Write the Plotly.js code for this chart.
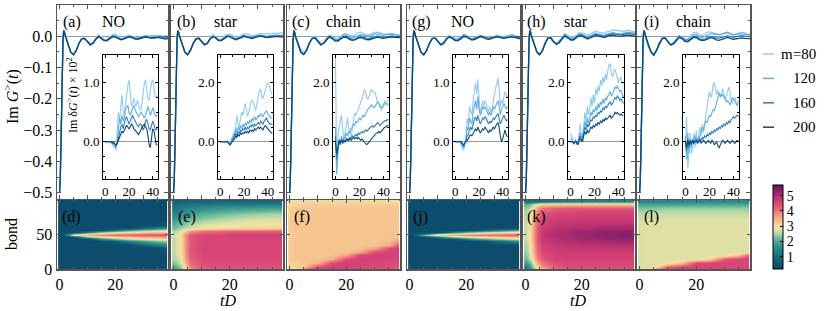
<!DOCTYPE html>
<html><head><meta charset="utf-8">
<script src="https://cdn.plot.ly/plotly-3.0.1.min.js"></script>
<style>html,body{margin:0;padding:0;background:#fff}#chart{width:830px;height:311px}</style>
</head><body><div id="chart"></div>
<script>
// ---------------- DATA ----------------
const tFine = [0,0.25,0.5,0.75,1,1.25,1.5,1.75];
const riseG = [-0.5,-0.46,-0.36,-0.22,-0.09,-0.01,0.018,0.014];
const tGrid = [0,1,2,3,4,5,6,7,8,9,10,11,12,13,14,15,16,17,18,19,20,21,22,23,24,25,26,27,28,29,30,31,32,33,34,35,36,37,38,39,40,41,42,43,44];
const baseG = [-0.5,-0.09,0.004,-0.025,-0.05,-0.059,-0.045,-0.022,-0.007,-0.006,-0.018,-0.028,-0.024,-0.011,-0.003,-0.008,-0.016,-0.017,-0.01,-0.004,-0.004,-0.01,-0.014,-0.012,-0.007,-0.004,-0.006,-0.01,-0.011,-0.008,-0.005,-0.004,-0.007,-0.009,-0.008,-0.006,-0.005,-0.006,-0.008,-0.008,-0.006,-0.005,-0.006,-0.007,-0.007];

const mLabels = ['m=80','120','160','200'];

// Im dG(t) x 10^2, inset (a) NO
const dNO_80  = [0,0,0,0,0,-0.02,-0.03,-0.1,-0.05,-0.15,0.1,0.5,0.35,0.55,0.8,0.55,0.42,0.6,0.8,0.95,1.05,0.85,0.6,0.65,0.74,0.65,0.6,0.7,0.65,0.55,0.54,0.65,0.85,1.0,1.05,0.9,0.72,0.7,0.85,1.0,1.05,0.9,0.78,0.75,0.78];
const dNO_120 = [0,0,0,0,0,-0.02,-0.05,0,-0.05,-0.1,0,0.2,0.4,0.3,0.45,0.35,0.4,0.55,0.6,0.62,0.5,0.45,0.5,0.58,0.62,0.55,0.5,0.45,0.42,0.45,0.5,0.48,0.42,0.4,0.45,0.55,0.6,0.52,0.45,0.5,0.58,0.52,0.45,0.43,0.45];
const dNO_160 = [0,0,0,0,0,0,-0.03,0,-0.05,-0.08,-0.02,0.05,0.15,0.25,0.3,0.22,0.3,0.4,0.42,0.35,0.3,0.35,0.42,0.45,0.4,0.35,0.33,0.28,0.25,0.3,0.3,0.25,0.2,0.25,0.35,0.38,0.3,0.22,0.2,0.28,0.35,0.3,0.22,0.2,0.25];
const dNO_200 = [0,0,0,0,0,0,0,-0.02,-0.03,-0.05,-0.03,0.02,0.08,0.12,0.18,0.15,0.2,0.25,0.28,0.25,0.22,0.25,0.3,0.28,0.22,0.2,0.18,0.15,0.12,0.15,0.2,0.25,0.28,0.3,0.25,0.22,0.1,-0.05,-0.1,0.05,0.22,0.2,0.05,-0.05,-0.05];
// inset (b) star
const dST_80  = [0,0,0,0,0,0,0.05,-0.05,0,-0.1,0.1,0.3,0.2,0.5,0.9,0.6,0.5,0.8,1.0,0.9,1.1,1.3,1.1,0.85,1.0,1.2,1.35,1.42,1.3,1.15,1.07,1.3,1.5,1.75,1.77,1.5,1.48,1.6,1.8,1.9,2.0,1.95,1.8,1.65,1.6];
const dST_120 = [0,0,0,0,0,0,0,-0.05,-0.1,0,0.15,0.1,0.3,0.45,0.3,0.5,0.4,0.55,0.45,0.6,0.5,0.65,0.55,0.7,0.6,0.75,0.65,0.8,0.7,0.85,0.75,0.8,0.9,0.85,0.95,0.9,0.85,0.95,1.0,1.05,0.95,0.9,0.85,0.8,0.8];
const dST_160 = [0,0,0,0,0,0,0,-0.05,-0.1,-0.05,0.05,0.1,0.2,0.3,0.2,0.35,0.3,0.4,0.35,0.45,0.4,0.5,0.4,0.5,0.45,0.55,0.5,0.6,0.5,0.6,0.55,0.6,0.65,0.6,0.7,0.65,0.6,0.7,0.75,0.8,0.7,0.65,0.6,0.6,0.6];
const dST_200 = [0,0,0,0,0,0,0,-0.05,-0.1,-0.05,0,0.05,0.1,0.2,0.15,0.25,0.2,0.3,0.25,0.3,0.28,0.35,0.3,0.35,0.3,0.4,0.35,0.4,0.35,0.45,0.4,0.45,0.5,0.45,0.5,0.45,0.4,0.5,0.55,0.5,0.45,0.4,0.35,0.3,0.3];
// inset (c) chain
const dCH_80  = [3.2,-1.0,0.2,0.5,0.7,0.9,0.4,0.05,0.3,0.6,0.8,0.5,0.25,0.17,0.5,0.8,0.97,0.9,1.0,1.08,1.2,1.35,1.43,1.6,1.77,1.7,1.5,1.43,1.55,1.7,1.77,1.72,1.68,1.66,1.5,1.35,1.3,1.15,1.08,1.12,1.2,1.3,1.38,1.42,1.43];
const dCH_120 = [0.5,-1.1,-0.5,0.1,-0.1,0.2,0,0.15,0.1,0.3,0.2,0.35,0.3,0.45,0.5,0.6,0.55,0.7,0.65,0.75,0.8,0.75,0.85,0.9,0.85,0.95,1.0,1.1,1.15,1.2,1.25,1.2,1.15,1.2,1.3,1.35,1.3,1.2,1.15,1.2,1.3,1.35,1.3,1.25,1.3];
const dCH_160 = [0.2,-0.6,-0.3,0,-0.1,0.1,-0.05,0.05,0,0.1,0.05,0.1,0.15,0.1,0.2,0.15,0.2,0.25,0.2,0.3,0.25,0.3,0.35,0.3,0.35,0.4,0.35,0.4,0.45,0.5,0.5,0.55,0.5,0.55,0.6,0.65,0.6,0.55,0.6,0.65,0.7,0.72,0.7,0.75,0.75];
const dCH_200 = [0,-0.4,-0.2,0.05,-0.05,0.05,-0.05,0.05,0,0.05,0.1,0.05,0.1,0.05,0.1,0.15,0.1,0.15,0.1,0.15,0.1,0.05,0.1,0.05,0,-0.05,-0.1,-0.05,0,0.05,0.1,0.15,0.2,0.25,0.3,0.3,0.35,0.3,0.35,0.4,0.45,0.5,0.5,0.55,0.55];
// inset (g) NO
const dNOg_80  = [0,0,0,0.02,0,-0.05,-0.1,-0.15,-0.05,0.1,0.4,0.3,0.6,0.5,0.45,0.7,0.85,1.0,0.8,1.06,0.75,0.5,0.55,0.7,0.6,0.7,0.65,0.55,0.5,0.6,0.5,0.55,0.7,0.8,0.9,1.0,1.08,0.9,0.6,0.7,0.65,0.75,0.85,0.8,0.75];
const dNOg_120 = [0,0,0,0,0,-0.03,-0.08,-0.1,0,0.05,0.25,0.2,0.4,0.35,0.3,0.5,0.6,0.7,0.55,0.77,0.55,0.45,0.5,0.6,0.55,0.6,0.55,0.5,0.45,0.5,0.45,0.5,0.6,0.55,0.6,0.65,0.7,0.6,0.45,0.55,0.6,0.65,0.6,0.55,0.6];
const dNOg_160 = [0,0,0,0,0,0,-0.05,-0.08,-0.02,0,0.1,0.12,0.2,0.25,0.2,0.3,0.38,0.42,0.35,0.45,0.38,0.3,0.35,0.4,0.38,0.42,0.4,0.35,0.3,0.35,0.32,0.35,0.4,0.38,0.42,0.45,0.48,0.4,0.3,0.35,0.4,0.45,0.4,0.35,0.38];
const dNOg_200 = [0,0,0,0,0,0,-0.03,-0.05,-0.02,0,0.03,0.05,0.1,0.12,0.1,0.15,0.2,0.22,0.18,0.25,0.2,0.15,0.18,0.22,0.2,0.25,0.22,0.18,0.15,0.2,0.18,0.2,0.25,0.22,0.28,0.3,0.32,0.25,0.1,0,0.05,0.15,0.2,0.12,0.08];
// inset (h) star
const dSTh_80  = [0.3,0.2,0,-0.1,0.1,0,-0.1,0.2,0.6,0.3,0.1,0.5,1.0,0.7,1.2,0.9,1.1,1.5,1.2,1.6,1.3,1.8,1.6,1.9,1.7,2.1,1.9,2.2,2.0,2.3,2.1,2.4,2.6,2.65,2.3,2.2,2.4,2.45,2.3,2.1,2.0,2.1,2.2,2.0,1.95];
const dSTh_120 = [0.1,0.1,0,-0.05,0.05,0,-0.1,0.1,0.3,0.2,0.1,0.4,0.7,0.5,0.8,0.6,0.8,1.0,0.9,1.1,1.0,1.2,1.05,1.3,1.15,1.35,1.25,1.45,1.3,1.5,1.4,1.55,1.6,1.7,1.55,1.6,1.75,1.85,1.8,1.9,1.8,1.7,1.75,1.6,1.5];
const dSTh_160 = [0,0,0,-0.05,0,0,-0.1,0.05,0.2,0.1,0.05,0.3,0.5,0.4,0.6,0.5,0.6,0.75,0.7,0.85,0.8,0.9,0.85,1.0,0.95,1.05,1.0,1.15,1.1,1.2,1.15,1.25,1.3,1.35,1.25,1.3,1.4,1.5,1.45,1.55,1.5,1.4,1.45,1.35,1.3];
const dSTh_200 = [0,0,0,-0.05,0,0,-0.1,0,0.1,0.05,0,0.2,0.35,0.25,0.4,0.3,0.4,0.5,0.45,0.55,0.5,0.6,0.55,0.65,0.6,0.7,0.65,0.75,0.7,0.8,0.75,0.8,0.85,0.9,0.8,0.85,0.9,1.0,0.95,1.0,0.95,0.9,0.95,0.9,0.9];
// inset (i) chain
const dCHi_80  = [-0.3,0.85,-0.9,-0.3,0.3,-0.4,-0.2,0.3,-0.2,0.4,-0.1,0.2,0.5,0.2,0.6,0.3,0.7,0.9,1.2,1.5,1.7,1.5,1.6,1.95,2.0,1.75,1.6,1.75,1.6,1.5,1.65,1.8,1.6,1.45,1.55,1.75,1.85,1.7,1.4,1.3,1.45,1.5,1.35,1.2,1.4];
const dCHi_120 = [0.2,-0.6,0.3,-0.4,0.1,-0.2,0.1,-0.1,0.2,0,0.15,0.05,0.2,0.3,0.5,0.4,0.6,0.7,0.65,0.8,0.9,0.85,1.0,1.1,1.05,1.2,1.35,1.5,1.65,1.6,1.55,1.6,1.5,1.4,1.35,1.4,1.3,1.25,1.35,1.5,1.45,1.35,1.3,1.25,1.3];
const dCHi_160 = [0,-0.3,0.1,-0.2,0,-0.1,0.05,-0.05,0.05,0,0.05,0,0.1,0.05,0.15,0.1,0.2,0.15,0.25,0.2,0.3,0.25,0.35,0.3,0.4,0.35,0.45,0.4,0.5,0.45,0.55,0.5,0.6,0.55,0.65,0.6,0.7,0.65,0.75,0.8,0.85,0.8,0.85,0.9,0.85];
const dCHi_200 = [0,-0.2,0.05,-0.1,0.05,-0.05,0.05,-0.05,0,0.05,-0.05,0,0.05,-0.05,0,0.05,0,-0.05,0,0.05,0,-0.05,0.05,0,-0.1,-0.05,0,-0.15,-0.2,-0.1,0,0.05,0,-0.05,0,0.05,0,-0.05,0,0.05,0,-0.05,0,0.05,0];

// Heatmap grids: time columns and bond rows
const tColDJ = [0,1,5,10,15,20,25,30,35,37,38];
const bondDJ = [0,20,30,35,40,44,47,49,50,51,53,56,60,64,70,99];
const tColEF = [0,1,2,3,4,6,10,15,20,25,30,35,37,38];
const bondEK = [0,3,8,15,25,35,45,50,55,60,70,80,88,94,99];
const bondFL = [0,3,8,15,20,25,30,35,45,50,55,60,70,80,88,94,99];

const zD = [
 [0.3,0.3,0.3,0.3,0.3,0.3,0.3,0.3,0.3,0.3,0.3],
 [0.3,0.3,0.3,0.3,0.3,0.3,0.3,0.3,0.3,0.3,0.3],
 [0.3,0.3,0.3,0.3,0.3,0.3,0.3,0.3,0.35,0.55,0.65],
 [0.3,0.3,0.3,0.3,0.3,0.3,0.3,0.85,1.3,1.45,1.5],
 [0.3,0.3,0.3,0.3,0.3,0.85,1.5,1.9,2.25,2.35,2.4],
 [0.3,0.3,0.3,0.3,1.5,2.15,2.55,2.8,2.95,3.0,3.0],
 [0.3,0.3,0.3,2.1,2.75,3.05,3.3,3.45,3.6,3.65,3.65],
 [0.3,0.3,2.8,3.45,3.85,4.05,4.15,4.2,4.3,4.3,4.3],
 [2.5,3.5,4.2,4.4,4.5,4.5,4.6,4.6,4.6,4.6,4.6],
 [0.3,0.3,2.25,3.1,3.5,3.8,3.95,4.05,4.15,4.15,4.15],
 [0.3,0.3,0.3,1.3,2.25,2.7,2.95,3.1,3.3,3.3,3.35],
 [0.3,0.3,0.3,0.3,0.35,1.3,1.85,2.25,2.5,2.6,2.6],
 [0.3,0.3,0.3,0.3,0.3,0.3,0.35,1.0,1.45,1.6,1.65],
 [0.3,0.3,0.3,0.3,0.3,0.3,0.3,0.3,0.35,0.55,0.6],
 [0.3,0.3,0.3,0.3,0.3,0.3,0.3,0.3,0.3,0.3,0.3],
 [0.3,0.3,0.3,0.3,0.3,0.3,0.3,0.3,0.3,0.3,0.3]
];
const zJ = [
 [0.3,0.3,0.3,0.3,0.3,0.3,0.3,0.3,0.3,0.3,0.3],
 [0.3,0.3,0.3,0.3,0.3,0.3,0.3,0.3,0.3,0.3,0.3],
 [0.3,0.3,0.3,0.3,0.3,0.3,0.3,0.3,0.3,0.3,0.3],
 [0.3,0.3,0.3,0.3,0.3,0.3,0.3,0.3,0.3,0.35,0.4],
 [0.3,0.3,0.3,0.3,0.3,0.3,0.35,1.0,1.45,1.6,1.65],
 [0.3,0.3,0.3,0.3,0.35,1.3,1.85,2.25,2.5,2.6,2.6],
 [0.3,0.3,0.3,1.3,2.25,2.7,2.95,3.1,3.3,3.3,3.35],
 [0.3,0.3,2.25,3.1,3.5,3.8,3.95,4.05,4.15,4.15,4.2],
 [2.5,3.5,4.2,4.4,4.5,4.5,4.6,4.6,4.6,4.6,4.6],
 [0.3,0.3,1.35,2.7,3.1,3.4,3.6,3.8,3.9,3.95,3.95],
 [0.3,0.3,0.3,0.3,1.35,2.0,2.45,2.7,2.9,2.95,2.95],
 [0.3,0.3,0.3,0.3,0.3,0.3,0.75,1.35,1.75,1.85,1.9],
 [0.3,0.3,0.3,0.3,0.3,0.3,0.3,0.3,0.3,0.35,0.45],
 [0.3,0.3,0.3,0.3,0.3,0.3,0.3,0.3,0.3,0.3,0.3],
 [0.3,0.3,0.3,0.3,0.3,0.3,0.3,0.3,0.3,0.3,0.3],
 [0.3,0.3,0.3,0.3,0.3,0.3,0.3,0.3,0.3,0.3,0.3]
];
const zE = [
 [1.8,1.9,2.1,2.4,2.9,3.7,4.2,4.3,4.3,4.3,4.3,4.3,4.3,4.3],
 [2.0,2.1,2.3,2.6,3.1,3.9,4.3,4.4,4.4,4.4,4.4,4.4,4.4,4.4],
 [2.3,2.4,2.6,2.9,3.4,4.1,4.4,4.45,4.45,4.45,4.45,4.45,4.45,4.45],
 [2.5,2.6,2.8,3.1,3.6,4.2,4.45,4.5,4.5,4.5,4.5,4.5,4.5,4.5],
 [2.6,2.7,2.9,3.2,3.7,4.3,4.5,4.5,4.5,4.5,4.5,4.5,4.5,4.5],
 [2.6,2.7,2.9,3.2,3.7,4.3,4.5,4.5,4.5,4.5,4.5,4.5,4.5,4.5],
 [2.6,2.7,2.9,3.2,3.7,4.3,4.5,4.5,4.55,4.55,4.55,4.55,4.55,4.55],
 [2.7,2.8,3.0,3.3,3.8,4.3,4.5,4.5,4.6,4.6,4.6,4.6,4.6,4.6],
 [2.5,2.6,2.7,2.9,3.2,3.7,4.0,4.1,4.2,4.2,4.2,4.2,4.2,4.2],
 [2.2,2.3,2.4,2.5,2.6,2.7,2.9,3.0,3.05,3.1,3.1,3.15,3.15,3.15],
 [1.9,2.0,2.0,2.1,2.2,2.3,2.5,2.6,2.7,2.75,2.8,2.8,2.8,2.8],
 [1.5,1.5,1.6,1.7,1.8,1.9,2.1,2.2,2.3,2.4,2.45,2.5,2.5,2.5],
 [1.2,1.2,1.3,1.3,1.4,1.5,1.6,1.7,1.8,1.85,1.9,1.9,1.9,1.9],
 [1.0,1.0,1.0,1.1,1.1,1.2,1.2,1.25,1.3,1.3,1.3,1.3,1.3,1.3],
 [0.8,0.8,0.8,0.8,0.85,0.85,0.9,0.9,0.9,0.9,0.9,0.9,0.9,0.9]
];
const zF = [
 [2.9,2.95,3.0,3.1,3.5,4.3,4.55,4.55,4.5,4.45,4.4,4.35,4.3,4.3],
 [3.0,3.05,3.1,3.15,3.2,3.5,4.5,4.6,4.55,4.5,4.45,4.4,4.35,4.35],
 [3.1,3.15,3.2,3.2,3.25,3.3,3.5,4.5,4.6,4.55,4.5,4.45,4.4,4.4],
 [3.2,3.25,3.3,3.3,3.3,3.3,3.3,3.5,4.4,4.6,4.6,4.55,4.5,4.5],
 [3.2,3.25,3.3,3.3,3.3,3.3,3.3,3.3,3.6,4.5,4.6,4.6,4.55,4.55],
 [3.2,3.25,3.3,3.3,3.3,3.3,3.3,3.3,3.3,3.6,4.4,4.6,4.6,4.6],
 [3.2,3.25,3.3,3.3,3.3,3.3,3.3,3.3,3.3,3.3,3.6,4.4,4.55,4.6],
 [3.2,3.25,3.3,3.3,3.3,3.3,3.3,3.3,3.3,3.3,3.3,3.5,3.9,4.2],
 [3.2,3.25,3.3,3.3,3.3,3.3,3.3,3.3,3.3,3.3,3.3,3.3,3.3,3.3],
 [3.2,3.25,3.3,3.3,3.3,3.3,3.3,3.3,3.3,3.3,3.3,3.3,3.3,3.3],
 [3.2,3.25,3.3,3.3,3.3,3.3,3.3,3.3,3.3,3.3,3.3,3.3,3.3,3.3],
 [3.2,3.25,3.3,3.3,3.3,3.3,3.3,3.3,3.3,3.3,3.3,3.3,3.3,3.3],
 [3.2,3.25,3.3,3.3,3.3,3.3,3.3,3.3,3.3,3.3,3.3,3.3,3.3,3.3],
 [3.2,3.25,3.3,3.3,3.3,3.3,3.3,3.3,3.3,3.3,3.3,3.3,3.3,3.3],
 [3.2,3.2,3.25,3.25,3.3,3.3,3.3,3.3,3.3,3.3,3.3,3.3,3.3,3.3],
 [3.1,3.1,3.15,3.15,3.2,3.2,3.2,3.2,3.2,3.2,3.2,3.2,3.2,3.2],
 [3.0,3.0,3.0,3.0,3.0,3.05,3.05,3.05,3.05,3.05,3.05,3.05,3.05,3.05]
];
const zK = [
 [1.2,1.3,1.7,2.3,2.8,3.4,4.0,4.3,4.3,4.3,4.3,4.3,4.3,4.3],
 [1.4,1.6,2.0,2.6,3.1,3.7,4.2,4.4,4.4,4.4,4.4,4.4,4.4,4.4],
 [1.8,2.0,2.4,3.0,3.5,4.0,4.4,4.5,4.5,4.5,4.5,4.5,4.5,4.5],
 [2.2,2.4,2.8,3.4,3.9,4.3,4.55,4.6,4.6,4.6,4.6,4.6,4.6,4.6],
 [2.4,2.6,3.0,3.6,4.1,4.5,4.65,4.7,4.7,4.7,4.7,4.7,4.7,4.7],
 [2.5,2.7,3.1,3.7,4.2,4.6,4.8,4.85,4.9,4.9,4.95,4.95,4.95,4.95],
 [2.6,2.8,3.2,3.8,4.3,4.75,4.95,5.05,5.15,5.2,5.25,5.3,5.3,5.3],
 [2.6,2.8,3.2,3.8,4.3,4.8,5.0,5.1,5.2,5.25,5.3,5.35,5.35,5.35],
 [2.6,2.8,3.2,3.8,4.3,4.75,4.95,5.05,5.15,5.2,5.25,5.3,5.3,5.3],
 [2.6,2.8,3.2,3.8,4.3,4.7,4.85,4.95,5.0,5.05,5.1,5.1,5.1,5.1],
 [2.6,2.8,3.1,3.7,4.2,4.6,4.7,4.75,4.8,4.8,4.8,4.8,4.8,4.8],
 [2.5,2.7,3.0,3.5,4.0,4.4,4.5,4.55,4.6,4.6,4.6,4.6,4.6,4.6],
 [2.4,2.5,2.8,3.2,3.6,4.0,4.2,4.3,4.3,4.3,4.3,4.3,4.3,4.3],
 [2.0,2.1,2.3,2.6,2.9,3.1,3.2,3.2,3.2,3.2,3.2,3.2,3.2,3.2],
 [1.0,1.0,1.0,1.0,1.0,1.1,1.2,1.3,1.4,1.4,1.4,1.4,1.4,1.4]
];
const zL = [
 [2.7,2.75,2.8,2.9,3.3,4.3,4.5,4.5,4.5,4.5,4.5,4.5,4.5,4.5],
 [2.7,2.75,2.75,2.75,2.8,3.0,4.3,4.55,4.55,4.5,4.5,4.5,4.5,4.5],
 [2.7,2.75,2.75,2.75,2.75,2.75,2.85,3.4,4.5,4.55,4.55,4.5,4.5,4.5],
 [2.7,2.75,2.75,2.75,2.75,2.75,2.75,2.75,2.8,3.2,4.3,4.55,4.55,4.55],
 [2.7,2.75,2.75,2.75,2.75,2.75,2.75,2.75,2.75,2.75,2.8,3.3,3.8,4.1],
 [2.7,2.75,2.75,2.75,2.75,2.75,2.75,2.75,2.75,2.75,2.75,2.75,2.8,2.8],
 [2.7,2.75,2.75,2.75,2.75,2.75,2.75,2.75,2.75,2.75,2.75,2.75,2.75,2.75],
 [2.7,2.75,2.75,2.75,2.75,2.75,2.75,2.75,2.75,2.75,2.75,2.75,2.75,2.75],
 [2.7,2.75,2.75,2.75,2.75,2.75,2.75,2.75,2.75,2.75,2.75,2.75,2.75,2.75],
 [2.7,2.75,2.75,2.75,2.75,2.75,2.75,2.75,2.75,2.75,2.75,2.75,2.75,2.75],
 [2.7,2.75,2.75,2.75,2.75,2.75,2.75,2.75,2.75,2.75,2.75,2.75,2.75,2.75],
 [2.7,2.75,2.75,2.75,2.75,2.75,2.75,2.75,2.75,2.75,2.75,2.75,2.75,2.75],
 [2.7,2.75,2.75,2.75,2.75,2.75,2.75,2.75,2.75,2.75,2.75,2.75,2.75,2.75],
 [2.6,2.6,2.6,2.6,2.65,2.65,2.65,2.65,2.65,2.65,2.65,2.65,2.65,2.65],
 [2.3,2.3,2.3,2.3,2.35,2.35,2.4,2.4,2.4,2.4,2.4,2.4,2.4,2.4],
 [1.9,1.9,1.9,1.9,1.9,1.9,1.9,1.9,1.95,1.95,1.95,1.95,1.95,1.95],
 [1.5,1.5,1.5,1.5,1.5,1.5,1.5,1.5,1.5,1.5,1.5,1.5,1.5,1.5]
];

const panelTags = ['(a)','(b)','(c)','(g)','(h)','(i)'];
const panelNames = ['NO','star','chain','NO','star','chain'];
const heatTags = ['(d)','(e)','(f)','(j)','(k)','(l)'];

// ---------------- BUILD ----------------
const W = 830, H = 311;
const px = x => x / W, py = y => 1 - y / H;
const FONT = 'Liberation Serif, DejaVu Serif, serif';
const lineColors = ['#8fcbee','#5eaedf','#2d7db8','#0d4a77'];

const deltas = [
  [dNO_80,dNO_120,dNO_160,dNO_200],
  [dST_80,dST_120,dST_160,dST_200],
  [dCH_80,dCH_120,dCH_160,dCH_200],
  [dNOg_80,dNOg_120,dNOg_160,dNOg_200],
  [dSTh_80,dSTh_120,dSTh_160,dSTh_200],
  [dCHi_80,dCHi_120,dCHi_160,dCHi_200]
];
const heatData = [
  {x:tColDJ,y:bondDJ,z:zD},{x:tColEF,y:bondEK,z:zE},{x:tColEF,y:bondFL,z:zF},
  {x:tColDJ,y:bondDJ,z:zJ},{x:tColEF,y:bondEK,z:zK},{x:tColEF,y:bondFL,z:zL}
];

const colX = [[57,168],[171,283],[287,400],[407,520],[523,635],[637,750]];
const insX = [[103,158],[218,273],[333,389],[453,508],[568,624],[683,739]];
const mainY = [5,199], insY = [55,179], heatY = [200,269];
const insRange = [[-0.63,1.47],[-1.26,2.94],[-1.26,2.94],[-0.63,1.47],[-1.26,2.94],[-1.26,2.94]];
const insDtick = [1,2,2,1,2,2];
const tagX = [72,186,301,421.7,536,651], nameX = [113,226,343,462.5,576,693];
const heatTagX = [71,186.5,301.5,420.5,536.5,651];

const key = (a,n) => n === 1 ? a + 'axis' : a + 'axis' + n;
const ref = (a,n) => n === 1 ? a : a + n;

const frameGray = '#555';
const layout = {
  width: W, height: H,
  margin: {l:0, r:0, t:0, b:0, pad:0},
  paper_bgcolor: '#fff', plot_bgcolor: '#fff',
  showlegend: false,
  font: {family: FONT, size: 14, color: '#000'},
  annotations: [], shapes: [],
  coloraxis: {
    cmin: 0.2, cmax: 5.7,
    colorscale: [[0,'#0a4a6c'],[0.1,'#135d77'],[0.2,'#227a84'],[0.29,'#3a978e'],[0.36,'#66b79a'],
                 [0.42,'#aad6a6'],[0.46,'#dedfa6'],[0.5,'#f3e2a4'],[0.56,'#f6c690'],[0.63,'#f39c80'],[0.71,'#e8697a'],
                 [0.78,'#da4676'],[0.85,'#c03371'],[0.92,'#92236a'],[1,'#5b1558']],
    colorbar: {
      x: px(773), xanchor: 'left', y: py(269), yanchor: 'bottom',
      len: 84, lenmode: 'pixels', thickness: 10, thicknessmode: 'pixels',
      xpad: 0, ypad: 0, outlinewidth: 1, outlinecolor: '#000',
      tickvals: [1,2,3,4,5], ticks: 'inside', ticklen: 3, tickcolor: '#000',
      tickfont: {family: FONT, size: 14}
    }
  }
};

const ann = (x, y, text, size, extra) => Object.assign({x: px(x), y: py(y), xref: 'paper', yref: 'paper',
  xanchor: 'center', yanchor: 'middle', text, showarrow: false,
  font: {family: FONT, size: size, color: '#000'}}, extra || {});

const traces = [];
for (let p = 0; p < 6; p++) {
  const nM = p + 1, nI = p + 7, nH = p + 13;
  layout[key('x',nM)] = {
    domain: [px(colX[p][0]), px(colX[p][1])], anchor: ref('y',nM),
    range: [-0.9, 38.9], showticklabels: false, showgrid: false, zeroline: false,
    showline: true, linecolor: frameGray, linewidth: 1.5, mirror: 'ticks',
    ticks: 'inside', ticklen: 4, tickcolor: frameGray, dtick: 10, tick0: 0,
    minor: {ticks: 'inside', ticklen: 2, dtick: 5, tickcolor: frameGray, showgrid: false}
  };
  layout[key('y',nM)] = {
    domain: [py(mainY[1]), py(mainY[0])], anchor: ref('x',nM),
    range: [-0.52, 0.10], dtick: 0.1, tick0: 0, tickformat: '.1f',
    showticklabels: p === 0, tickfont: {size: 16},
    showgrid: false, zeroline: true, zerolinecolor: '#9a9a9a', zerolinewidth: 1.5,
    showline: true, linecolor: frameGray, linewidth: 1.5, mirror: 'ticks',
    ticks: 'inside', ticklen: 4, tickcolor: frameGray,
    minor: {ticks: 'inside', ticklen: 2, dtick: 0.05, tickcolor: frameGray, showgrid: false}
  };
  layout[key('x',nI)] = {
    domain: [px(insX[p][0]), px(insX[p][1])], anchor: ref('y',nI),
    range: [-2, 44.5], dtick: 20, tick0: 0, tickfont: {size: 13},
    showgrid: false, zeroline: false,
    showline: true, linecolor: '#000', linewidth: 1, mirror: 'ticks',
    ticks: 'inside', ticklen: 3, tickcolor: '#000',
    minor: {ticks: 'inside', ticklen: 2, dtick: 10, tickcolor: '#000', showgrid: false}
  };
  layout[key('y',nI)] = {
    domain: [py(insY[1]), py(insY[0])], anchor: ref('x',nI),
    range: insRange[p], dtick: insDtick[p], tick0: 0, tickformat: '.1f', tickfont: {size: 13},
    showgrid: false, zeroline: true, zerolinecolor: '#9a9a9a', zerolinewidth: 1,
    showline: true, linecolor: '#000', linewidth: 1, mirror: 'ticks',
    ticks: 'inside', ticklen: 3, tickcolor: '#000',
    minor: {ticks: 'inside', ticklen: 2, dtick: insDtick[p] / 4, tickcolor: '#000', showgrid: false}
  };
  layout[key('x',nH)] = {
    domain: [px(colX[p][0]), px(colX[p][1])], anchor: ref('y',nH),
    range: [-0.9, 38.9], dtick: 20, tick0: 0, tickfont: {size: 16},
    showgrid: false, zeroline: false,
    showline: true, linecolor: frameGray, linewidth: 1.5, mirror: 'ticks',
    ticks: 'inside', ticklen: 3, tickcolor: frameGray,
    minor: {ticks: 'inside', ticklen: 2, dtick: 5, tickcolor: frameGray, showgrid: false}
  };
  layout[key('y',nH)] = {
    domain: [py(heatY[1]), py(heatY[0])], anchor: ref('x',nH),
    range: [0, 100], tickvals: [0, 50], showticklabels: p === 0, tickfont: {size: 16},
    showgrid: false, zeroline: false,
    showline: true, linecolor: frameGray, linewidth: 1.5, mirror: 'ticks',
    ticks: 'inside', ticklen: 3, tickcolor: frameGray
  };

  traces.push({
    type: 'heatmap', x: heatData[p].x, y: heatData[p].y, z: heatData[p].z,
    coloraxis: 'coloraxis', zsmooth: 'best', hoverinfo: 'skip',
    xaxis: ref('x',nH), yaxis: ref('y',nH)
  });

  for (let m = 0; m < 4; m++) {
    const d = deltas[p][m];
    const xs = tFine.concat(tGrid.slice(2));
    const ys = riseG.concat(tGrid.slice(2).map((t, k) => baseG[k + 2] + d[k + 2] / 100));
    traces.push({
      type: 'scatter', mode: 'lines', x: xs, y: ys, hoverinfo: 'skip',
      line: {color: lineColors[m], width: 1.3},
      xaxis: ref('x',nM), yaxis: ref('y',nM)
    });
    traces.push({
      type: 'scatter', mode: 'lines', x: tGrid, y: d, hoverinfo: 'skip',
      line: {color: lineColors[m], width: 1.1},
      xaxis: ref('x',nI), yaxis: ref('y',nI)
    });
  }

  layout.annotations.push(ann(tagX[p], 22, panelTags[p], 16));
  layout.annotations.push(ann(nameX[p], 22, panelNames[p], 16));
  layout.annotations.push(ann(heatTagX[p], 217, heatTags[p], 16));
}

layout.annotations.push(ann(11, 97, 'Im <i>G</i><sup>></sup>(<i>t</i>)', 16, {textangle: -90}));
layout.annotations.push(ann(72, 95, 'Im δ<i>G</i><sup>></sup>(<i>t</i>) × 10<sup>2</sup>', 12, {textangle: -90}));
layout.annotations.push(ann(11, 234, 'bond', 16, {textangle: -90}));
[228, 578].forEach(x => layout.annotations.push(ann(x, 300, '<i>tD</i>', 16)));

mLabels.forEach((lab, i) => {
  const yy = 54 + i * 24.4;
  layout.shapes.push({type: 'line', xref: 'paper', yref: 'paper', x0: px(763), x1: px(774),
    y0: py(yy), y1: py(yy), line: {color: lineColors[i], width: 1.5}});
  layout.annotations.push(ann(818, yy, lab, 15, {xanchor: 'right'}));
});

Plotly.newPlot('chart', traces, layout, {staticPlot: true, displayModeBar: false});
</script>
</body></html>
